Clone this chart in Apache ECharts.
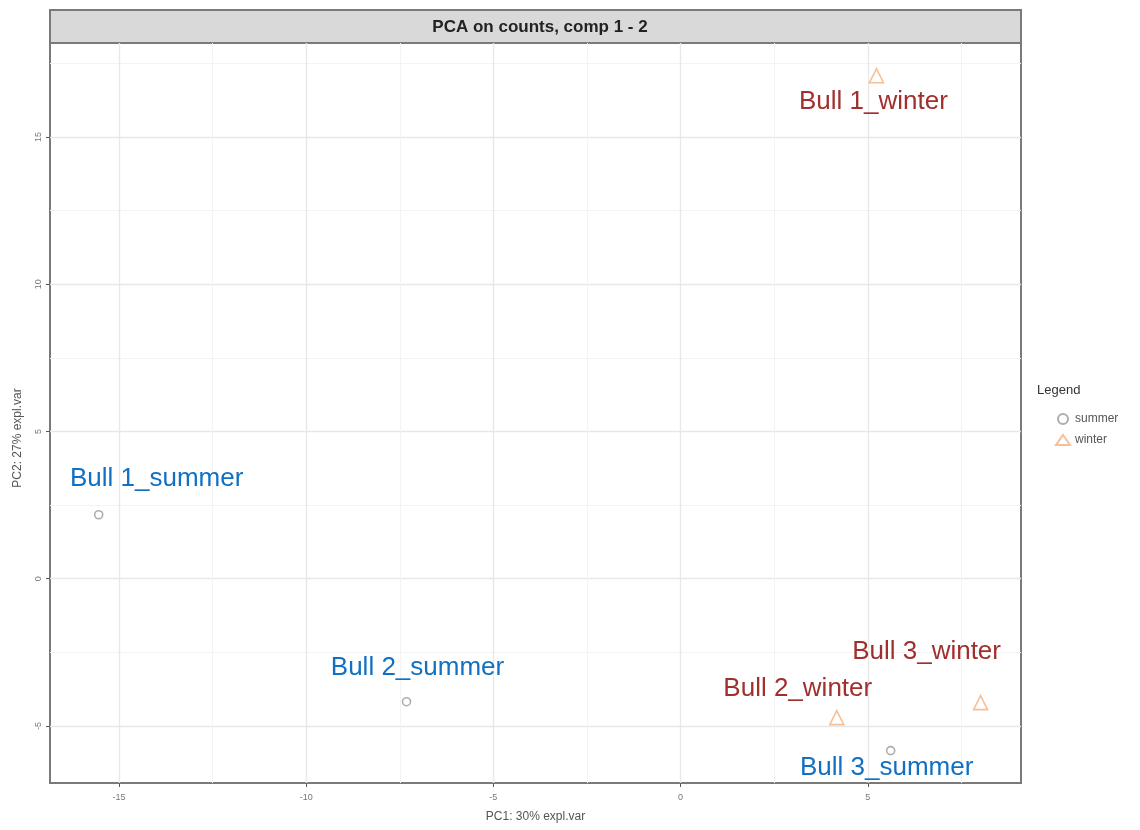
<!DOCTYPE html>
<html>
<head>
<meta charset="utf-8">
<title>PCA on counts, comp 1 - 2</title>
<script src="https://cdn.jsdelivr.net/npm/echarts@6/dist/echarts.min.js"></script>
<style>
  html, body { margin: 0; padding: 0; background: #ffffff; }
  #chart { width: 1140px; height: 830px; }
</style>
</head>
<body>
<div id="chart"></div>
<script>
// Sample scores on the first two principal components
const summerNames = ['Bull 1_summer', 'Bull 2_summer', 'Bull 3_summer'];
const summerPC1 = [-15.54, -7.32, 5.61];
const summerPC2 = [2.17, -4.18, -5.84];

const winterNames = ['Bull 1_winter', 'Bull 2_winter', 'Bull 3_winter'];
const winterPC1 = [5.23, 4.17, 8.01];
const winterPC2 = [17.08, -4.72, -4.21];

const xMajorTicks = [-15, -10, -5, 0, 5];
const xMinorTicks = [-12.5, -7.5, -2.5, 2.5, 7.5];
const yMajorTicks = [-5, 0, 5, 10, 15];
const yMinorTicks = [-2.5, 2.5, 7.5, 12.5, 17.5];

const groupNames = ['summer', 'winter'];

// Label placement (repelled text) relative to each point, in pixels
const labelShift = {
  'Bull 1_summer': [58, -36],
  'Bull 2_summer': [11, -34],
  'Bull 3_summer': [-4, 17],
  'Bull 1_winter': [-3, 26],
  'Bull 2_winter': [-39, -29],
  'Bull 3_winter': [-54, -51]
};

function points(names, xs, ys) {
  return names.map((n, i) => ({
    name: n,
    value: [xs[i], ys[i]],
    label: { offset: labelShift[n] }
  }));
}

const X_MIN = -16.84, X_MAX = 9.09;
const Y_MIN = -6.94, Y_MAX = 18.19;
const FONT = 'Liberation Sans, Arial, sans-serif';

const chart = echarts.init(document.getElementById('chart'), null, { renderer: 'canvas' });

function minorAxis(minV, maxV, ticks) {
  return {
    type: 'value',
    gridIndex: 0,
    min: minV, max: maxV,
    axisLine: { show: false, onZero: false },
    axisTick: { show: false, customValues: ticks },
    axisLabel: { show: false },
    splitLine: { show: true, lineStyle: { color: '#f3f3f3', width: 1 } }
  };
}

const textLabel = (color) => ({
  show: true, position: 'inside', formatter: '{b}',
  fontSize: 26, color: color, fontFamily: FONT,
  textBorderWidth: 0, textShadowBlur: 0, opacity: 1
});

const option = {
  backgroundColor: '#ffffff',
  animation: false,
  title: [
    {
      text: 'PCA on counts, comp 1 - 2',
      left: 535, top: 14, textAlign: 'center',
      textStyle: { fontSize: 17, fontWeight: 'bold', color: '#222', fontFamily: FONT }
    },
    {
      text: 'Legend',
      left: 1032, top: 379,
      textStyle: { fontSize: 13, fontWeight: 'normal', color: '#333', fontFamily: FONT }
    }
  ],
  graphic: [
    {
      type: 'rect', z: -1,
      shape: { x: 50, y: 10, width: 971, height: 33 },
      style: { fill: '#d9d9d9', stroke: '#7a7a7a', lineWidth: 2 }
    }
  ],
  legend: {
    orient: 'vertical',
    left: 1050, top: 408,
    itemGap: 9,
    itemWidth: 14, itemHeight: 10,
    data: groupNames,
    textStyle: { fontSize: 12, color: '#555', fontFamily: FONT }
  },
  grid: {
    left: 50, top: 43, width: 971, height: 740,
    show: true, borderColor: '#7a7a7a', borderWidth: 2, backgroundColor: '#ffffff'
  },
  xAxis: [
    {
      type: 'value', gridIndex: 0,
      min: X_MIN, max: X_MAX,
      name: 'PC1: 30% expl.var', nameLocation: 'middle', nameGap: 28,
      nameTextStyle: { fontSize: 12, color: '#555', fontFamily: FONT },
      axisLine: { show: false, onZero: false },
      axisTick: { show: true, length: 4, lineStyle: { color: '#555', width: 1 }, customValues: xMajorTicks },
      axisLabel: { fontSize: 9, color: '#777', margin: 10, customValues: xMajorTicks, fontFamily: FONT },
      splitLine: { show: true, lineStyle: { color: '#e8e8e8', width: 1.4 } }
    },
    minorAxis(X_MIN, X_MAX, xMinorTicks)
  ],
  yAxis: [
    {
      type: 'value', gridIndex: 0,
      min: Y_MIN, max: Y_MAX,
      name: 'PC2: 27% expl.var', nameLocation: 'middle', nameGap: 26,
      nameTextStyle: { fontSize: 12, color: '#555', fontFamily: FONT, padding: [0, 0, 0, -50] },
      axisLine: { show: false, onZero: false },
      axisTick: { show: true, length: 4, lineStyle: { color: '#555', width: 1 }, customValues: yMajorTicks },
      axisLabel: { fontSize: 9, color: '#777', margin: 7, rotate: 90, customValues: yMajorTicks, fontFamily: FONT },
      splitLine: { show: true, lineStyle: { color: '#e8e8e8', width: 1.4 } }
    },
    minorAxis(Y_MIN, Y_MAX, yMinorTicks)
  ],
  series: [
    {
      name: 'summer',
      type: 'scatter',
      xAxisIndex: 0, yAxisIndex: 0,
      symbol: 'circle',
      symbolSize: 8,
      itemStyle: { color: 'rgba(255,255,255,0)', borderColor: '#999999', borderWidth: 1.6 },
      label: textLabel('#1170c2'),
      emphasis: { disabled: true },
      data: points(summerNames, summerPC1, summerPC2)
    },
    {
      name: 'winter',
      type: 'scatter',
      xAxisIndex: 0, yAxisIndex: 0,
      symbol: 'triangle',
      symbolSize: 14,
      itemStyle: { color: 'rgba(255,255,255,0)', borderColor: '#f2b07e', borderWidth: 1.6 },
      label: textLabel('#a0302e'),
      emphasis: { disabled: true },
      data: points(winterNames, winterPC1, winterPC2)
    }
  ]
};

chart.setOption(option);
</script>
</body>
</html>
